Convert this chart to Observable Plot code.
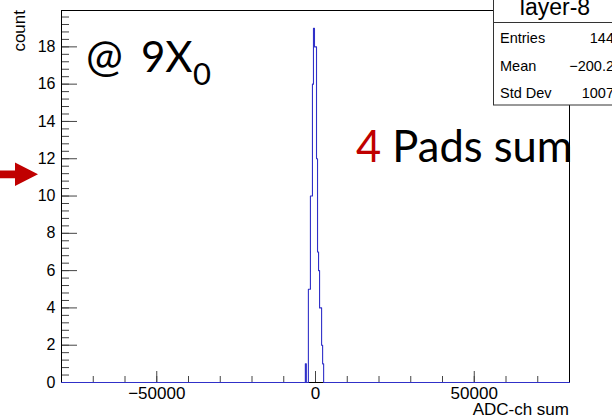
<!DOCTYPE html>
<html>
<head>
<meta charset="utf-8">
<script src="https://cdn.jsdelivr.net/npm/d3@7"></script>
<script src="https://cdn.jsdelivr.net/npm/@observablehq/plot@0.6"></script>
<style>
  html, body { margin: 0; padding: 0; background: #fff; }
  #wrap { position: relative; width: 612px; height: 419px; overflow: hidden; }
  #wrap svg { display: block; }
  #overlay { position: absolute; left: 0; top: 0; pointer-events: none; }
</style>
</head>
<body>
<div id="wrap"></div>
<script>
// ---- data (histogram "layer-8", 500 bins over [-80000, 80000]) ----
const xDomain = [-80000, 80000];
const binWidth = 320;
const binLow = [-3200, -2880, -2560, -2240, -1920, -1600, -1280, -960, -640, -320, 0, 320, 640, 960, 1280, 1600, 1920, 2240];
const binCount = [1, 0, 0, 5, 5, 10, 10, 16, 19, 18, 18, 12, 7, 6, 4, 4, 2, 1];
const yMax = 19.95;
const xMajorTicks = [-50000, 0, 50000];
const xTickLabels = ["\u221250000", "0", "50000"];
const yMajorTicks = [0, 2, 4, 6, 8, 10, 12, 14, 16, 18];
const statLabels = ["Entries", "Mean", "Std Dev"];
const statValues = ["144", "\u2212200.2", "1007"];
const histTitle = "layer-8";
const xTitle = "ADC-ch sum";
const yTitle = "count";

// step outline points
const pts = [{x: xDomain[0], y: 0}];
binLow.forEach((lo, i) => pts.push({x: lo, y: binCount[i]}));
pts.push({x: binLow[binLow.length - 1] + binWidth, y: 0});
pts.push({x: xDomain[1], y: 0});

const xMinor = d3.range(-80000, 80001, 10000);
const yMinor = d3.range(0, 50).map(i => +(i * 0.4).toFixed(1)).filter(v => v <= yMax);

const font = "'Liberation Sans', Arial, sans-serif";
const tickColor = "#444";

const chart = Plot.plot({
  width: 612,
  height: 419,
  marginLeft: 61,
  marginRight: 43,
  marginTop: 10,
  marginBottom: 37,
  style: {fontFamily: font, background: "white", color: "black"},
  x: {domain: xDomain},
  y: {domain: [0, yMax]},
  marks: [
    Plot.axisX(xMinor, {tickSize: -6, text: null, label: null, stroke: tickColor}),
    Plot.axisX(xMajorTicks, {tickSize: -11, text: null, label: null, stroke: tickColor}),
    Plot.axisX(xMajorTicks, {tickSize: 0, tickPadding: 4, fontSize: 17, label: null, tickFormat: (d, i) => xTickLabels[i]}),
    Plot.axisY(yMinor, {tickSize: -8, text: null, label: null, stroke: tickColor}),
    Plot.axisY(yMajorTicks, {tickSize: -16, text: null, label: null, stroke: tickColor}),
    Plot.axisY(yMajorTicks, {tickSize: 0, tickPadding: 6, fontSize: 16, label: null, tickFormat: d => String(d)}),
    Plot.frame({stroke: "black"}),
    Plot.line(pts, {x: "x", y: "y", curve: "step-after", stroke: "#3030c8", strokeWidth: 1.1})
  ]
});
const wrap = document.getElementById("wrap");
wrap.appendChild(chart);

// ---- overlay annotations ----
const ns = "http://www.w3.org/2000/svg";
const ov = d3.select(wrap).append("svg")
  .attr("id", "overlay").attr("width", 612).attr("height", 419)
  .attr("xmlns", ns);

// axis titles
ov.append("text").text(xTitle)
  .attr("x", 569).attr("y", 415).attr("text-anchor", "end")
  .attr("font-family", font).attr("font-size", 17);
ov.append("text").text(yTitle)
  .attr("transform", "translate(25,10) rotate(-90)").attr("text-anchor", "end")
  .attr("font-family", font).attr("font-size", 17);

// red arrow
ov.append("polygon")
  .attr("points", "0,170.5 15,170.5 15,162.5 38,174.3 15,186 15,178.3 0,178.3")
  .attr("fill", "#c00000");

// big annotations
const bigFont = "Lato, 'Open Sans', sans-serif";
const big = ov.append("text").attr("y", 72)
  .attr("font-family", bigFont).attr("font-size", 42).attr("fill", "black");
big.append("tspan").text("@").attr("x", 86).attr("font-size", 44);
big.append("tspan").text("9X").attr("x", 141);
big.append("tspan").text("0").attr("x", 193).attr("font-size", 31).attr("dy", 13);

const pads = ov.append("text").attr("x", 356).attr("y", 162)
  .attr("font-family", bigFont).attr("font-size", 43.5).attr("fill", "black");
pads.append("tspan").text("4").attr("fill", "#c00000");
pads.append("tspan").text(" Pads sum");

// title box
ov.append("rect").attr("x", 493.5).attr("y", -2).attr("width", 140).attr("height", 24.5)
  .attr("fill", "white").attr("stroke", "#333");
ov.append("text").text(histTitle).attr("x", 555).attr("y", 15).attr("text-anchor", "middle")
  .attr("font-family", font).attr("font-size", 23);

// stats box
ov.append("rect").attr("x", 493.5).attr("y", 22.5).attr("width", 140).attr("height", 82.5)
  .attr("fill", "white").attr("stroke", "#333");
statLabels.forEach((s, i) => {
  ov.append("text").text(s).attr("x", 500).attr("y", 43 + i * 27.5)
    .attr("font-family", font).attr("font-size", 14.5);
  ov.append("text").text(statValues[i]).attr("x", 614).attr("y", 43 + i * 27.5)
    .attr("text-anchor", "end").attr("font-family", font).attr("font-size", 14.5);
});
</script>
</body>
</html>
